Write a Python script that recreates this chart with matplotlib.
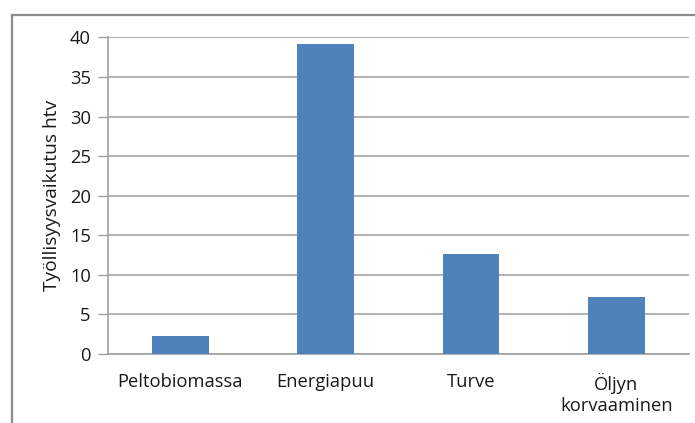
import matplotlib.pyplot as plt
from matplotlib.lines import Line2D

categories = ["Peltobiomassa", "Energiapuu", "Turve", "Öljyn\nkorvaaminen"]
values = [2.3, 39.2, 12.6, 7.2]
yticks = [0, 5, 10, 15, 20, 25, 30, 35, 40]

plt.rcParams['font.family'] = ['Open Sans', 'DejaVu Sans']

fig = plt.figure(figsize=(6.95, 4.23), dpi=100)
ax = fig.add_axes([107.5 / 695, (423 - 354) / 423, (689 - 107.5) / 695, (354 - 37.5) / 423])

x = range(len(categories))
ax.bar(x, values, width=0.39, color="#4F81BD", zorder=3)

ax.set_xlim(-0.5, len(categories) - 0.5)
ax.set_ylim(0, 40)
ax.set_yticks(yticks)
ax.set_xticks(list(x))
ax.set_xticklabels(categories, fontsize=13.2, color="#1a1a1a", linespacing=1.15)
ax.tick_params(axis='x', length=0, pad=14)
ax.tick_params(axis='y', length=7, width=1, color="#A0A0A0", labelsize=13.2,
               labelcolor="#1a1a1a", pad=5)
ax.grid(axis='y', color="#A6A6A6", linewidth=1.2, zorder=0)

for side in ["top", "right"]:
    ax.spines[side].set_visible(False)
for side in ["left", "bottom"]:
    ax.spines[side].set_color("#A0A0A0")
    ax.spines[side].set_linewidth(1.2)

ax.set_ylabel("Työllisyysvaikutus htv", fontsize=13.8, color="#1a1a1a")
ax.yaxis.set_label_coords(-46 / 581.5, 0.5)

# outer chart frame (only top and left edges fall inside the image)
fig.add_artist(Line2D([12 / 695, 1.0], [1 - 15 / 423, 1 - 15 / 423],
                      transform=fig.transFigure, color="#8C8C8C", linewidth=1.6))
fig.add_artist(Line2D([12 / 695, 12 / 695], [0.0, 1 - 15 / 423],
                      transform=fig.transFigure, color="#8C8C8C", linewidth=1.6))

fig.savefig("out.png", dpi=100)
